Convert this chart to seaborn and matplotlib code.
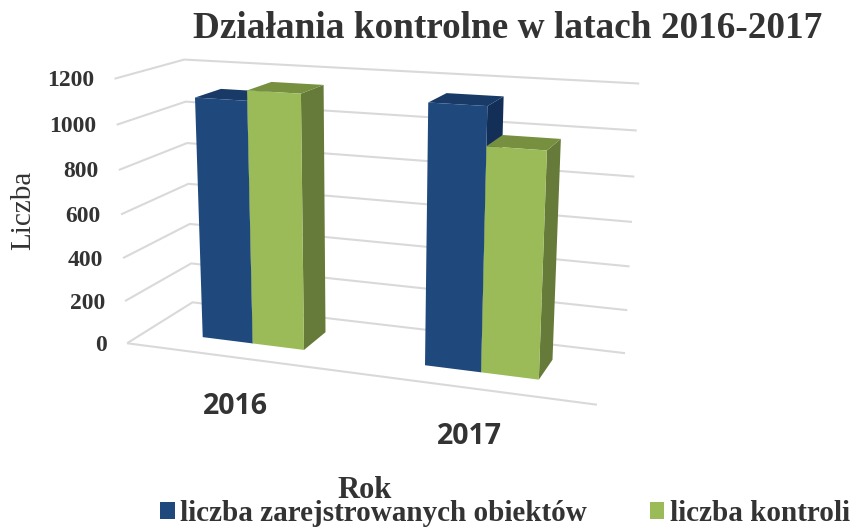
"""
Dzialania kontrolne - wykres slupkowy 3D
"""
import numpy as np
import pandas as pd
import matplotlib
matplotlib.use('Agg')
import matplotlib.pyplot as plt
from matplotlib.patches import Polygon
from matplotlib.transforms import Transform
import seaborn as sns

lata = ['2016', '2017']
obiekty = [1105, 1145]
kontrole = [1150, 980]
serie = ['liczba zarejstrowanych obiektów', 'liczba kontroli']
ticks = [0, 200, 400, 600, 800, 1000, 1200]

# colours: front, side, top
blue = ['#1F497D', '#132F57', '#193A66']
green = ['#9BBB59', '#667A39', '#779040']

# wall corners, used to calibrate the camera
front_left = [(127, 343), (125, 301), (123, 258), (121, 214), (119, 170), (117, 125), (114, 79)]
back_left = [(192, 303), (191, 263), (190, 224), (189, 184), (188, 143), (185, 102), (184, 59)]
back_right = [(625, 353), (627, 310), (630, 266), (632, 222), (634, 177), (637, 131), (639, 83)]
front_right_floor = (597, 405)
X0, X1 = -0.5, 1.5
Z_FRONT, Z_BACK = 0.3, 0.7


def calibrate():
    world, px = [], []
    for t, a, b, c in zip(ticks, front_left, back_left, back_right):
        world += [(X0, t, 0), (X0, t, 1), (X1, t, 1)]
        px += [a, b, c]
    world.append((X1, 0, 0))
    px.append(front_right_floor)
    rows = []
    for (x, y, z), (u, v) in zip(world, px):
        p = [x, y / 1200, z, 1]
        u, v = u / 500, v / 500
        rows.append(p + [0, 0, 0, 0] + [-u * k for k in p])
        rows.append([0, 0, 0, 0] + p + [-v * k for k in p])
    return np.linalg.svd(np.array(rows))[2][-1].reshape(3, 4)


P = calibrate()


def project(x, y, z):
    x, y = np.asarray(x, float), np.asarray(y, float)
    p = np.stack([x, y / 1200, np.full_like(x, z), np.ones_like(x)])
    q = P @ p
    return np.stack([q[0] / q[2], q[1] / q[2]], axis=-1) * 500


class PlaneZ(Transform):
    input_dims = 2
    output_dims = 2

    def __init__(self, z):
        super().__init__()
        self.z = z

    def transform_non_affine(self, values):
        return project(values[:, 0], values[:, 1], self.z)


sns.set_theme(style='white')
plt.rcParams['font.family'] = ['Liberation Serif', 'DejaVu Serif']
text_color = '#333333'

df = pd.DataFrame({
    'rok': lata * 2,
    'liczba': obiekty + kontrole,
    'seria': [serie[0]] * 2 + [serie[1]] * 2,
})

fig = plt.figure(figsize=(8.52, 5.28), dpi=100)
ax = fig.add_axes([0, 0, 1, 1])
sns.barplot(data=df, x='rok', y='liczba', hue='seria', palette=[blue[0], green[0]],
            saturation=1, width=0.47, linewidth=0, ax=ax)

sns.move_legend(ax, 'lower left', bbox_to_anchor=(160 / 852, 1 / 528), ncol=2, frameon=False,
                title=None, handlelength=0.5, handleheight=0.5, handletextpad=0.2,
                columnspacing=2.15, borderpad=0, borderaxespad=0,
                prop={'weight': 'bold', 'size': 21}, labelcolor=text_color)

# the axes is a pixel canvas, everything goes through project()
ax.set_xlim(0, 852)
ax.set_ylim(528, 0)
ax.axis('off')

# walls
grid = dict(color='#D9D9D9', lw=1.5, zorder=1, solid_capstyle='butt')
for t in ticks:
    seg = project([X0, X0], [t, t], 0)
    seg = np.vstack([seg, project([X0, X1], [t, t], 1)])
    ax.plot(seg[:, 0], seg[:, 1], **grid)
    ax.text(seg[0, 0] - 20, seg[0, 1] + 2, str(t), ha='right', va='center', fontsize=17,
            fontweight='bold', color=text_color)
floor = project([X0, X1], [0, 0], 0)
ax.plot(floor[:, 0], floor[:, 1], **grid)

# bars
z = 2
for container, cols in zip(ax.containers, [blue, green]):
    for bar in container:
        x0, x1 = bar.get_x(), bar.get_x() + bar.get_width()
        v = bar.get_height()
        side = np.vstack([project([x1, x1], [0, v], Z_FRONT), project([x1, x1], [v, 0], Z_BACK)])
        top = np.vstack([project([x0, x1], [v, v], Z_FRONT), project([x1, x0], [v, v], Z_BACK)])
        ax.add_patch(Polygon(side, closed=True, fc=cols[1], ec='none', zorder=z))
        ax.add_patch(Polygon(top, closed=True, fc=cols[2], ec='none', zorder=z + 1))
        bar.set_transform(PlaneZ(Z_FRONT) + ax.transData)
        bar.set_clip_on(False)
        bar.set_zorder(z + 2)
    z += 3

# category labels
for i, rok in enumerate(lata):
    px, py = project([i], [0], 0)[0]
    ax.text(px + 1, py + 49, rok, ha='center', va='center', fontsize=20.5, fontweight='bold',
            family=['Open Sans', 'DejaVu Sans'], color=text_color)

ax.text(508, 29, 'Działania kontrolne w latach 2016-2017', ha='center', va='center', fontsize=26.8,
        fontweight='bold', color=text_color)
ax.text(23, 210, 'Liczba', rotation=90, ha='center', va='center', fontsize=21, color=text_color)
ax.text(365, 491, 'Rok', ha='center', va='center', fontsize=22, fontweight='bold', color=text_color)

plt.savefig('out.png', dpi=100)
